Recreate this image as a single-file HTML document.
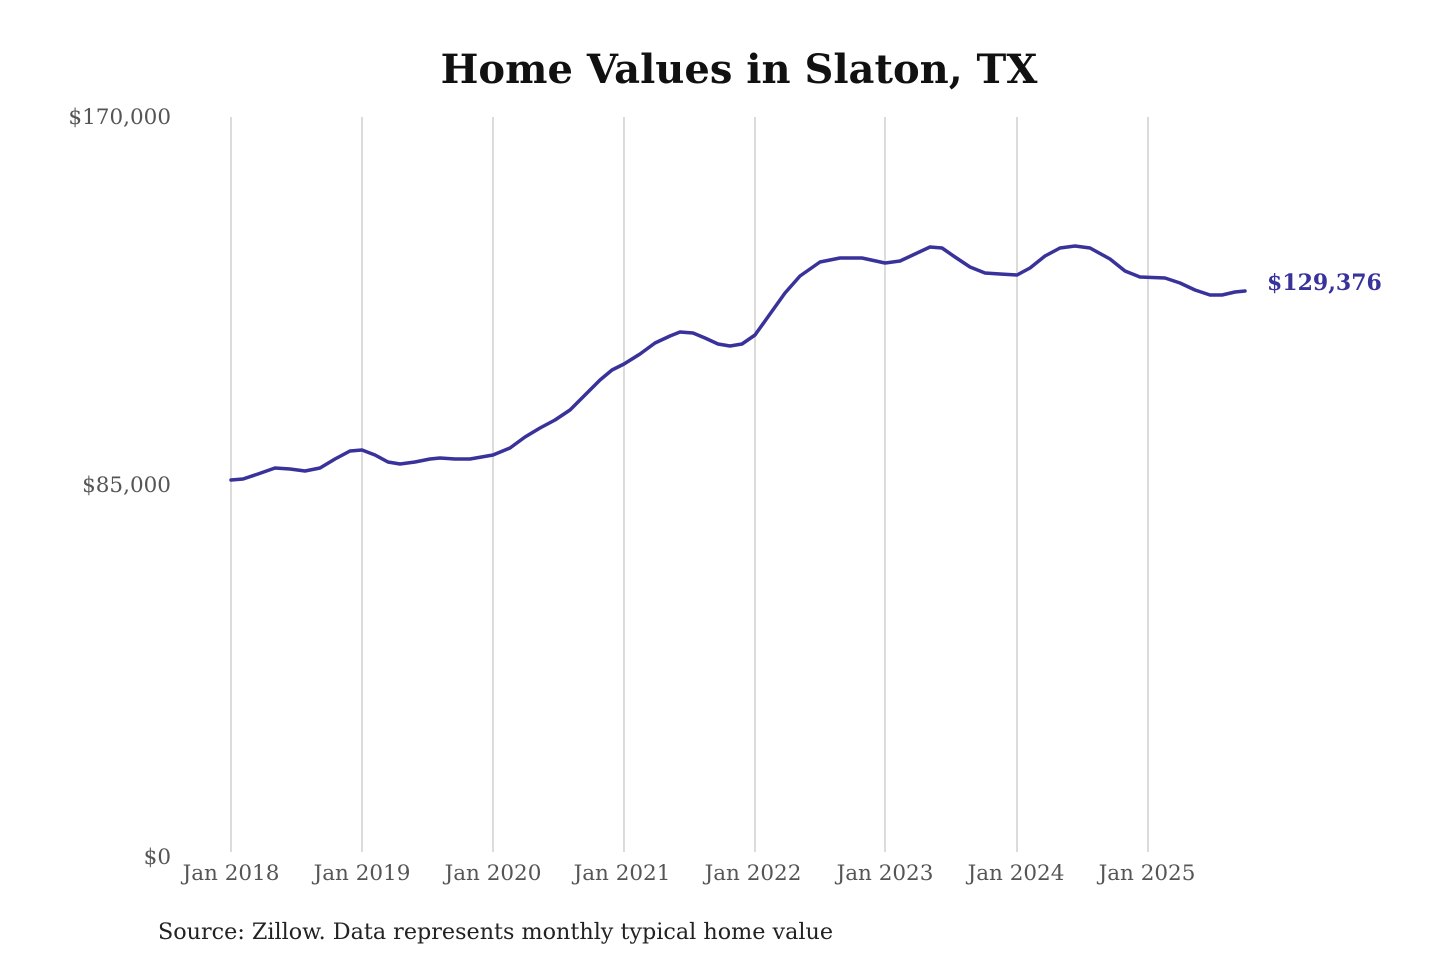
<!DOCTYPE html>
<html><head><meta charset="utf-8"><style>
html,body{margin:0;padding:0;background:#fff;}
svg{display:block;}
</style></head><body>
<svg width="1440" height="960" xmlns="http://www.w3.org/2000/svg">
<rect width="1440" height="960" fill="#fff"/>
<text x="739" y="83" text-anchor="middle" font-family="'DejaVu Serif','Liberation Serif',serif" font-weight="bold" font-size="40" fill="#111">Home Values in Slaton, TX</text>
<g stroke="#c8c8c8" stroke-width="1.3">
<line x1="231" y1="117" x2="231" y2="852"/>
<line x1="362" y1="117" x2="362" y2="852"/>
<line x1="493" y1="117" x2="493" y2="852"/>
<line x1="624" y1="117" x2="624" y2="852"/>
<line x1="755" y1="117" x2="755" y2="852"/>
<line x1="885" y1="117" x2="885" y2="852"/>
<line x1="1017" y1="117" x2="1017" y2="852"/>
<line x1="1148" y1="117" x2="1148" y2="852"/>
</g>
<g font-family="'DejaVu Serif','Liberation Serif',serif" font-size="21.5" fill="#555">
<text x="171" y="124" text-anchor="end">$170,000</text>
<text x="171" y="492" text-anchor="end">$85,000</text>
<text x="171" y="864" text-anchor="end">$0</text>
<g text-anchor="middle">
<text x="231" y="880">Jan 2018</text>
<text x="362" y="880">Jan 2019</text>
<text x="493" y="880">Jan 2020</text>
<text x="622" y="880">Jan 2021</text>
<text x="753" y="880">Jan 2022</text>
<text x="885" y="880">Jan 2023</text>
<text x="1016" y="880">Jan 2024</text>
<text x="1147" y="880">Jan 2025</text>
</g>
</g>
<text x="158" y="939" font-family="'DejaVu Serif','Liberation Serif',serif" font-size="22" fill="#222" textLength="675" lengthAdjust="spacingAndGlyphs">Source: Zillow. Data represents monthly typical home value</text>
<polyline fill="none" stroke="#38329a" stroke-width="3.5" stroke-linejoin="round" stroke-linecap="round"
points="231,480 243,479 258,474 275,468 290,469 305,471 320,468 335,459 350,451 362,450 375,455 388,462 400,464 415,462 430,459 440,458 455,459 470,459 493,455 510,448 525,437 540,428 555,420 570,410 585,395 600,380 612,370 624,364 640,354 655,343 670,336 680,332 693,333 705,338 718,344 730,346 742,344 755,335 770,314 785,293 800,276 820,262 840,258 862,258 885,263 900,261 915,254 930,247 942,248 955,257 970,267 985,273 1000,274 1017,275 1030,268 1045,256 1060,248 1075,246 1090,248 1110,259 1125,271 1140,277 1165,278 1180,283 1195,290 1210,295 1222,295 1235,292 1245,291"/>
<text x="1267" y="290" font-family="'DejaVu Serif','Liberation Serif',serif" font-weight="bold" font-size="22" fill="#38329a">$129,376</text>
</svg>
</body></html>
